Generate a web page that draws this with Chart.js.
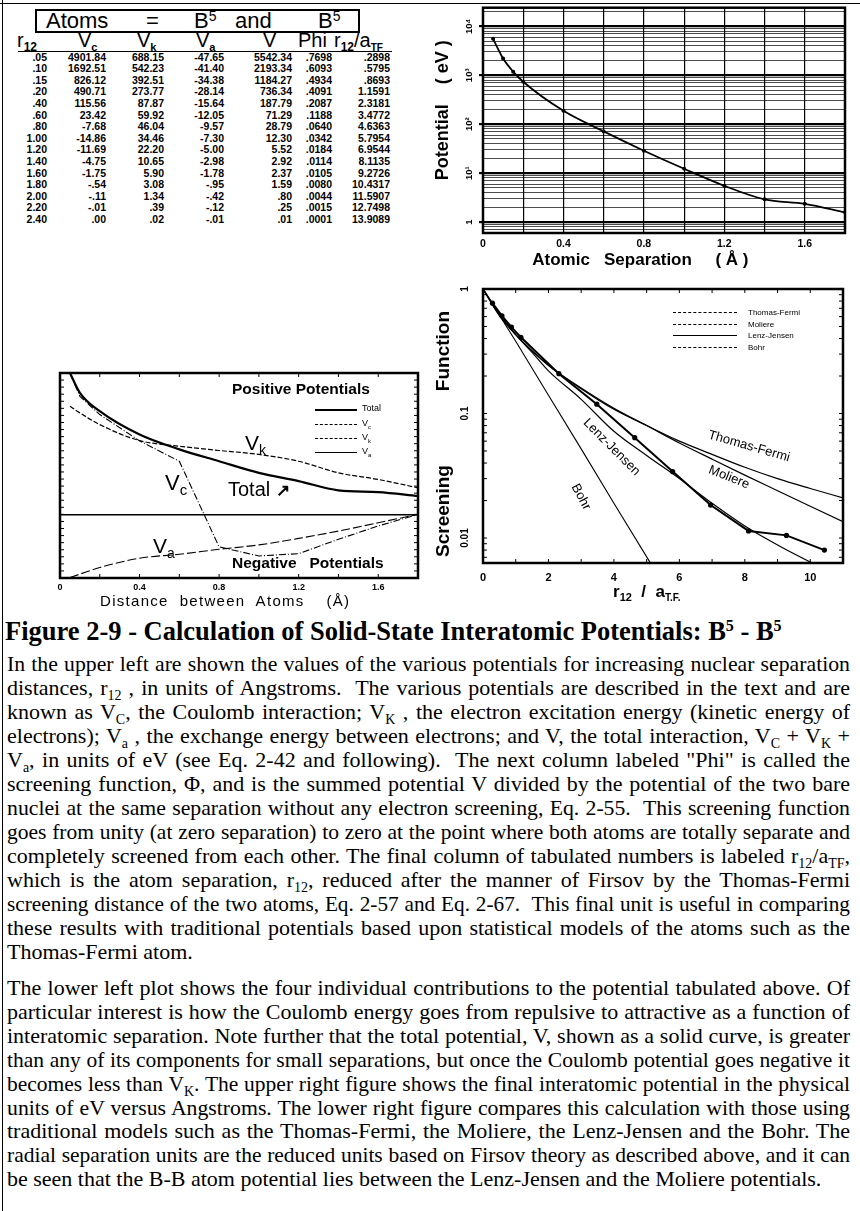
<!DOCTYPE html>
<html><head><meta charset="utf-8">
<script src="https://cdn.jsdelivr.net/npm/chart.js@4.4.1/dist/chart.umd.min.js"></script>
<style>
html,body{margin:0;padding:0;background:#fff}
body{width:860px;height:1211px;position:relative;overflow:hidden;color:#000;font-family:"Liberation Sans",Arial,sans-serif}
.a{position:absolute;white-space:nowrap;line-height:1}
canvas{position:absolute}
.tl{position:absolute;left:7px;width:843px;height:24px;line-height:24px;font-family:"Liberation Serif","Times New Roman",serif;font-size:22px;text-align:justify;text-align-last:justify}
.tl.last{text-align-last:left}
.tl sub{font-size:14px;vertical-align:-5px;line-height:0}
.cell{position:absolute;font-weight:bold;font-size:10.5px;line-height:11px;text-align:right;width:70px}
.hdr{position:absolute;font-size:20px;line-height:20px}
.hdr sub{font-size:12px;vertical-align:-4px;line-height:0;font-weight:bold}
.lgl{position:absolute;height:0;border-top:1.3px solid #000}
.lgt{position:absolute;font-size:8px;line-height:9px}
.ann{position:absolute;white-space:nowrap;line-height:1;transform-origin:center center}
</style></head><body>

<div class="a" style="left:0;top:3px;width:860px;height:0;border-top:1.5px solid #000"></div>
<div class="a" style="left:2px;top:0;width:0;height:1211px;border-left:1.5px solid #000"></div>

<!-- table -->
<div class="a" style="left:35px;top:9px;width:321px;height:20px;border:2px solid #000"></div>
<div class="a" style="left:46px;top:10px;font-size:22px">Atoms</div>
<div class="a" style="left:146px;top:10px;font-size:22px">=</div>
<div class="a" style="left:194px;top:10px;font-size:22px">B<sup style="font-size:14px;vertical-align:7px;line-height:0">5</sup></div>
<div class="a" style="left:235px;top:10px;font-size:22px">and</div>
<div class="a" style="left:318px;top:10px;font-size:22px">B<sup style="font-size:14px;vertical-align:7px;line-height:0">5</sup></div>
<div class="hdr" style="left:17px;top:30px">r<sub>12</sub></div>
<div class="hdr" style="left:78px;top:30px">V<sub style="font-size:11px">c</sub></div>
<div class="hdr" style="left:137px;top:30px">V<sub style="font-size:11px">k</sub></div>
<div class="hdr" style="left:196px;top:30px">V<sub style="font-size:11px">a</sub></div>
<div class="hdr" style="left:263px;top:30px">V</div>
<div class="hdr" style="left:298px;top:30px">Phi</div>
<div class="hdr" style="left:334px;top:30px">r<sub>12</sub>/a<sub style="font-size:10px">TF</sub></div>
<div class="a" style="left:18px;top:51px;width:374px;height:0;border-top:1.3px solid #000"></div>
<div id="tbl"></div>

<!-- charts -->
<canvas id="c1" width="428" height="275" style="left:432px;top:0"></canvas>
<canvas id="c2" width="440" height="250" style="left:0;top:360px"></canvas>
<canvas id="c3" width="428" height="325" style="left:432px;top:275px"></canvas>

<!-- lower-left annotations -->
<div class="a" style="left:232px;top:381px;font-size:15.5px;font-weight:bold">Positive Potentials</div>
<div class="lgl" style="left:315px;top:409px;width:42px;border-top-width:2px"></div>
<div class="lgl" style="left:315px;top:424px;width:42px;border-top-style:dashed;border-top-width:1px"></div>
<div class="lgl" style="left:315px;top:438px;width:42px;border-top-style:dashed;border-top-width:1.3px"></div>
<div class="lgl" style="left:315px;top:452px;width:42px;border-top-style:solid;border-top-width:1px"></div>
<div class="lgt" style="left:362px;top:404px;font-size:9px">Total</div>
<div class="lgt" style="left:362px;top:419px;font-size:9px">V<sub style="font-size:6px">c</sub></div>
<div class="lgt" style="left:362px;top:433px;font-size:9px">V<sub style="font-size:6px">k</sub></div>
<div class="lgt" style="left:362px;top:447px;font-size:9px">V<sub style="font-size:6px">a</sub></div>
<div class="a" style="left:245px;top:432px;font-size:21px">V<sub style="font-size:14px;vertical-align:-5px;line-height:0">k</sub></div>
<div class="a" style="left:165px;top:472px;font-size:22px">V<sub style="font-size:15px;vertical-align:-5px;line-height:0">c</sub></div>
<div class="a" style="left:228px;top:479px;font-size:20px">Total <span style="font-size:17px;font-weight:bold">&#x2197;</span></div>
<div class="a" style="left:153px;top:535px;font-size:21px">V<sub style="font-size:14px;vertical-align:-5px;line-height:0">a</sub></div>
<div class="a" style="left:232px;top:555px;font-size:15.5px;font-weight:bold">Negative&nbsp;&nbsp;&nbsp;Potentials</div>
<div class="a" style="left:100px;top:593px;font-size:15px;letter-spacing:1.3px">Distance&nbsp; between&nbsp; Atoms&nbsp;&nbsp;&nbsp; (&#xC5;)</div>

<!-- lower-right annotations -->
<div class="lgl" style="left:673px;top:312px;width:64px;border-top-style:dashed;border-top-width:1px"></div>
<div class="lgl" style="left:673px;top:324px;width:64px;border-top-style:dashed;border-top-width:1.3px"></div>
<div class="lgl" style="left:673px;top:335px;width:64px;border-top-width:1.2px"></div>
<div class="lgl" style="left:673px;top:347px;width:64px;border-top-style:dashed;border-top-width:1px"></div>
<div class="lgt" style="left:748px;top:308px">Thomas-Fermi</div>
<div class="lgt" style="left:748px;top:320px">Moliere</div>
<div class="lgt" style="left:748px;top:331px">Lenz-Jensen</div>
<div class="lgt" style="left:748px;top:343px">Bohr</div>
<div class="ann" style="left:707px;top:439px;font-size:13px;transform:rotate(16deg)">Thomas-Fermi</div>
<div class="ann" style="left:708px;top:470px;font-size:13px;transform:rotate(22deg)">Moliere</div>
<div class="ann" style="left:575px;top:440px;font-size:13px;transform:rotate(45deg)">Lenz-Jensen</div>
<div class="ann" style="left:568px;top:490px;font-size:13px;transform:rotate(62deg)">Bohr</div>
<div class="a" style="left:613px;top:583px;font-size:17px;font-weight:bold">r<sub style="font-size:11px;vertical-align:-4px;line-height:0">12</sub> &nbsp;/ &nbsp;a<sub style="font-size:10px;vertical-align:-4px;line-height:0">T.F.</sub></div>

<!-- caption -->
<div class="a" style="left:5px;top:618px;font-family:'Liberation Serif','Times New Roman',serif;font-weight:bold;font-size:26.5px">Figure 2-9 - Calculation of Solid-State Interatomic Potentials: B<sup style="font-size:16px;vertical-align:9px;line-height:0">5</sup> - B<sup style="font-size:16px;vertical-align:9px;line-height:0">5</sup></div>
<div id="txt"></div>

<script>
// ---------- data ----------
const r12   = [0.05,0.10,0.15,0.20,0.40,0.60,0.80,1.00,1.20,1.40,1.60,1.80,2.00,2.20,2.40];
const Vc    = [4901.84,1692.51,826.12,490.71,115.56,23.42,-7.68,-14.86,-11.69,-4.75,-1.75,-0.54,-0.11,-0.01,0.00];
const Vk    = [688.15,542.23,392.51,273.77,87.87,59.92,46.04,34.46,22.20,10.65,5.90,3.08,1.34,0.39,0.02];
const Va    = [-47.65,-41.40,-34.38,-28.14,-15.64,-12.05,-9.57,-7.30,-5.00,-2.98,-1.78,-0.95,-0.42,-0.12,-0.01];
const Vtot  = [5542.34,2193.34,1184.27,736.34,187.79,71.29,28.79,12.30,5.52,2.92,2.37,1.59,0.80,0.25,0.01];
const Phi   = [0.7698,0.6093,0.4934,0.4091,0.2087,0.1188,0.0640,0.0342,0.0184,0.0114,0.0105,0.0080,0.0044,0.0015,0.0001];
const rTF   = [0.2898,0.5795,0.8693,1.1591,2.3181,3.4772,4.6363,5.7954,6.9544,8.1135,9.2726,10.4317,11.5907,12.7498,13.9089];

// lower-left plot (relative units, zero line = 0)
const llX     = [0.05,0.1,0.2,0.4,0.6,0.8,1.0,1.2,1.4,1.6,1.8];
const llTotal = [100,86,73,56.5,46,37.6,29.4,23.5,17,15.8,13];
const llVc    = [100,83.5,70.6,52,37.6,-23,-29.4,-27.8,-17.6,-8.2,0];
const llVk    = [76.5,71.8,63.5,52.2,48.2,45.2,42.4,37.6,29.4,24.7,18.8];
const llVaX   = [0.05,0.2,0.4,0.6,0.8,1.0,1.2,1.4,1.6,1.8];
const llVa    = [-44.7,-37.6,-31,-28.2,-24.7,-21.6,-17,-11.8,-5.9,0];

// lower-right reference screening functions
const tfX   = [0,0.5,1,2,3,4,5,6,7,8,9,10,11];
const tfPhi = [1,0.62,0.43,0.245,0.158,0.108,0.08,0.06,0.047,0.037,0.03,0.025,0.021];
const molX  = [0,0.5,1,2,3,4,5,6,7,8,9,10,11];
const molPhi= [1,0.61,0.43,0.243,0.16,0.11,0.08,0.058,0.043,0.032,0.024,0.018,0.0135];
const ljX   = [0,0.5,1,1.5,2,3,4,5,6,7,8,9,10];
const ljPhi = [1,0.64,0.43,0.31,0.22,0.13,0.072,0.046,0.03,0.019,0.0125,0.0088,0.0064];
const bohrX = [0,1,2,3,4,5.1];
const bohrPhi=[1,0.38,0.14,0.052,0.019,0.0064];

// tick labels
const potXTicks  = [0,0.2,0.4,0.6,0.8,1.0,1.2,1.4,1.6,1.8];
const potXLabels = ['0','','0.4','','0.8','','1.2','','1.6',''];
const potDecades = [1,10,100,1000,10000];
const potDecLabels = ['1','10\u00B9','10\u00B2','10\u00B3','10\u2074'];
const llXLabels  = ['0','','0.4','','0.8','','1.2','','1.6',''];
const scrXTicks  = [0,1,2,3,4,5,6,7,8,9,10,11];
const scrXLabels = ['0','','2','','4','','6','','8','','10',''];
const scrDecades = [0.01,0.1,1];
const scrDecLabels = ['0.01','0.1','1'];

// ---------- table ----------
function fmt(v, d){ let s = Math.abs(v).toFixed(d); if (s.startsWith('0.')) s = s.slice(1); return (v<0?'-':'') + s; }
const colRight = [47,106,164,224,292,332,390];
let html='';
r12.forEach((r,i)=>{
  const y = 51.5 + i*11.6;
  const vals = [fmt(r,2), fmt(Vc[i],2), fmt(Vk[i],2), fmt(Va[i],2), fmt(Vtot[i],2), fmt(Phi[i],4), fmt(rTF[i],4)];
  vals.forEach((t,j)=>{ html += `<div class="cell" style="left:${colRight[j]-70}px;top:${y}px">${t}</div>`; });
});
document.getElementById('tbl').innerHTML = html;

// ---------- text ----------
const p1 = [
 'In the upper left are shown the values of the various potentials for increasing nuclear separation',
 'distances, r<sub>12</sub> , in units of Angstroms.&nbsp; The various potentials are described in the text and are',
 'known as V<sub>C</sub>, the Coulomb interaction; V<sub>K</sub> , the electron excitation energy (kinetic energy of',
 'electrons); V<sub>a</sub> , the exchange energy between electrons; and V, the total interaction, V<sub>C</sub> + V<sub>K</sub> +',
 'V<sub>a</sub>, in units of eV (see Eq. 2-42 and following).&nbsp; The next column labeled "Phi" is called the',
 'screening function, \u03A6, and is the summed potential V divided by the potential of the two bare',
 'nuclei at the same separation without any electron screening, Eq. 2-55.&nbsp; This screening function',
 'goes from unity (at zero separation) to zero at the point where both atoms are totally separate and',
 'completely screened from each other. The final column of tabulated numbers is labeled r<sub>12</sub>/a<sub>TF</sub>,',
 'which is the atom separation, r<sub>12</sub>, reduced after the manner of Firsov by the Thomas-Fermi',
 'screening distance of the two atoms, Eq. 2-57 and Eq. 2-67.&nbsp; This final unit is useful in comparing',
 'these results with traditional potentials based upon statistical models of the atoms such as the',
 'Thomas-Fermi atom.'];
const p2 = [
 'The lower left plot shows the four individual contributions to the potential tabulated above. Of',
 'particular interest is how the Coulomb energy goes from repulsive to attractive as a function of',
 'interatomic separation. Note further that the total potential, V, shown as a solid curve, is greater',
 'than any of its components for small separations, but once the Coulomb potential goes negative it',
 'becomes less than V<sub>K</sub>. The upper right figure shows the final interatomic potential in the physical',
 'units of eV versus Angstroms. The lower right figure compares this calculation with those using',
 'traditional models such as the Thomas-Fermi, the Moliere, the Lenz-Jensen and the Bohr. The',
 'radial separation units are the reduced units based on Firsov theory as described above, and it can',
 'be seen that the B-B atom potential lies between the Lenz-Jensen and the Moliere potentials.'];
let th='';
p1.forEach((l,i)=>{ th += `<div class="tl${i===p1.length-1?' last':''}" style="top:${652+i*24}px"><span>${l}</span></div>`; });
p2.forEach((l,i)=>{ th += `<div class="tl${i===p2.length-1?' last':''}" style="top:${976+i*23.9}px"><span>${l}</span></div>`; });
document.getElementById('txt').innerHTML = th;
// shrink any line whose natural width exceeds the column
document.querySelectorAll('.tl').forEach(el=>{
  const sp = el.firstElementChild;
  el.style.whiteSpace='nowrap'; el.style.textAlign='left'; el.style.textAlignLast='left';
  let fs = 22;
  while (sp.getBoundingClientRect().width > 840 && fs > 15){ fs -= 0.25; el.style.fontSize = fs+'px'; }
  el.style.whiteSpace=''; el.style.textAlign=''; el.style.textAlignLast='';
});

// ---------- charts ----------
Chart.defaults.font.family = '"Liberation Sans", Arial, sans-serif';
Chart.defaults.color = '#000';

const isDec = v => Math.abs(Math.log10(v) - Math.round(Math.log10(v))) < 1e-9;
function logTicks(decades, min, max){
  const out=[];
  decades.concat([decades[0]/10]).sort((a,b)=>a-b).forEach(d=>{
    for(let k=1;k<10;k++){ const v=+(k*d).toPrecision(6); if(v>=min-1e-12 && v<=max+1e-9) out.push(v); }
  });
  return [...new Set(out)].sort((a,b)=>a-b);
}
function decLabel(v, decs, labs){ for(let i=0;i<decs.length;i++){ if(Math.abs(v/decs[i]-1)<1e-6) return labs[i]; } return ''; }

const framePlugin = {
  id:'frame',
  afterDraw(chart, args, opts){
    const {ctx, chartArea:a} = chart;
    ctx.save();
    ctx.strokeStyle='#000';
    if (opts.inTicks){
      ctx.lineWidth=1;
      const xs=chart.scales.x, ys=chart.scales.y, L=opts.len||4;
      ctx.beginPath();
      xs.ticks.forEach(t=>{const p=xs.getPixelForValue(t.value); ctx.moveTo(p,a.bottom); ctx.lineTo(p,a.bottom-L); ctx.moveTo(p,a.top); ctx.lineTo(p,a.top+L);});
      ys.ticks.forEach(t=>{const p=ys.getPixelForValue(t.value); ctx.moveTo(a.left,p); ctx.lineTo(a.left+L,p); ctx.moveTo(a.right,p); ctx.lineTo(a.right-L,p);});
      ctx.stroke();
    }
    ctx.lineWidth = opts.width||2;
    ctx.strokeRect(a.left,a.top,a.right-a.left,a.bottom-a.top);
    ctx.restore();
  }
};
const pts = (xs, ys) => xs.map((x,i)=>({x, y:ys[i]}));
const base = {responsive:false, animation:false, devicePixelRatio:1,
  plugins:{legend:{display:false}, tooltip:{enabled:false}}};

// Chart 1: potential vs separation
const potYTicks = logTicks(potDecades, 0.6, 24000);
new Chart(document.getElementById('c1'), {
  type:'line',
  data:{datasets:[{data: pts(r12, Vtot).filter(p=>p.x<=1.8), borderColor:'#000', borderWidth:1.8,
    pointRadius:2, pointBackgroundColor:'#000', pointBorderWidth:0, cubicInterpolationMode:'monotone'}]},
  options:{...base, plugins:{...base.plugins, frame:{width:2.5}},
    layout:{padding:{top:7,right:15,left:0,bottom:0}},
    scales:{
      x:{type:'linear', min:0, max:1.8, afterFit:s=>{s.height=42},
        afterBuildTicks:s=>{s.ticks=potXTicks.map(v=>({value:v}))},
        grid:{color:'#000', lineWidth:1.2, drawTicks:false}, border:{display:false},
        ticks:{autoSkip:false, padding:5, maxRotation:0, font:{size:10.5, weight:'bold'}, callback:(v,i)=>potXLabels[i]},
        title:{display:true, text:'Atomic   Separation     ( \u00C5 )          ', font:{size:17, weight:'bold'}, padding:{top:0,bottom:4}}},
      y:{type:'logarithmic', min:0.6, max:24000, afterFit:s=>{s.width=51},
        afterBuildTicks:s=>{s.ticks=potYTicks.map(v=>({value:v}))},
        grid:{color:'#000', lineWidth:c=> (c.tick && isDec(c.tick.value)) ? 2.2 : 0.7, tickLength:4,
              tickColor:c=> (c.tick && isDec(c.tick.value)) ? '#000' : 'rgba(0,0,0,0)'},
        border:{display:false},
        ticks:{autoSkip:false, minRotation:90, maxRotation:90, crossAlign:'center', padding:2,
               font:{size:9.5, weight:'bold'}, callback:v=>decLabel(v, potDecades, potDecLabels)},
        title:{display:true, text:'    Potential    ( eV )', font:{size:18, weight:'bold'}, padding:{top:0,bottom:0}}}
    }},
  plugins:[framePlugin]
});

// Chart 2: individual contributions
const dsLine = (data, w, dash) => ({data, borderColor:'#000', borderWidth:w, borderDash:dash, pointRadius:0, cubicInterpolationMode:'monotone'});
new Chart(document.getElementById('c2'), {
  type:'line',
  data:{datasets:[
    dsLine(pts(llX, llTotal), 2.2, []),
    {...dsLine(pts(llX, llVc), 1.1, [7,2,1,2]), cubicInterpolationMode:'default', tension:0},
    dsLine(pts(llX, llVk), 1.2, [5,2]),
    dsLine(pts(llVaX, llVa), 1.1, [9,3])
  ]},
  options:{...base, plugins:{...base.plugins, frame:{width:2.5, inTicks:true, len:4}},
    layout:{padding:{top:13,right:22,left:0,bottom:0}},
    scales:{
      x:{type:'linear', min:0, max:1.8, afterFit:s=>{s.height=32},
        afterBuildTicks:s=>{s.ticks=potXTicks.map(v=>({value:v}))},
        grid:{display:false, drawTicks:false}, border:{display:false},
        ticks:{autoSkip:false, padding:4, maxRotation:0, font:{size:9, weight:'bold'}, callback:(v,i)=>llXLabels[i]}},
      y:{type:'linear', min:-45, max:100, afterFit:s=>{s.width=60},
        ticks:{display:false, stepSize:5},
        grid:{drawTicks:false, color:c=> (c.tick && c.tick.value===0) ? '#000' : 'rgba(0,0,0,0)', lineWidth:1.6},
        border:{display:false}}
    }},
  plugins:[framePlugin]
});

// Chart 3: screening functions
const scrYTicks = logTicks(scrDecades, 0.0063, 1);
new Chart(document.getElementById('c3'), {
  type:'line',
  data:{datasets:[
    dsLine(pts(tfX, tfPhi), 1.2, []),
    dsLine(pts(molX, molPhi), 1.2, []),
    dsLine(pts(ljX, ljPhi), 1.2, []),
    {...dsLine(pts(bohrX, bohrPhi), 1.1, []), cubicInterpolationMode:'default', tension:0},
    {data: pts(rTF, Phi).filter(p=>p.x<=11), borderColor:'#000', borderWidth:2, pointRadius:2.6,
     pointBackgroundColor:'#000', pointBorderWidth:0, tension:0}
  ]},
  options:{...base, plugins:{...base.plugins, frame:{width:2.5, inTicks:true, len:4}},
    layout:{padding:{top:8,right:17,left:0,bottom:0}},
    scales:{
      x:{type:'linear', min:0, max:11, afterFit:s=>{s.height=37},
        afterBuildTicks:s=>{s.ticks=scrXTicks.map(v=>({value:v}))},
        grid:{display:false, drawTicks:false}, border:{display:false},
        ticks:{autoSkip:false, padding:8, maxRotation:0, font:{size:11, weight:'bold'}, callback:(v,i)=>scrXLabels[i]}},
      y:{type:'logarithmic', min:0.0063, max:1, afterFit:s=>{s.width=51},
        afterBuildTicks:s=>{s.ticks=scrYTicks.map(v=>({value:v}))},
        grid:{display:false, drawTicks:false}, border:{display:false},
        ticks:{autoSkip:false, minRotation:90, maxRotation:90, crossAlign:'center', padding:8,
               font:{size:10, weight:'bold'}, callback:v=>decLabel(v, scrDecades, scrDecLabels)},
        title:{display:true, text:'Screening              Function   ', font:{size:19, weight:'bold'}, padding:{top:0,bottom:0}}}
    }},
  plugins:[framePlugin]
});
</script>
</body></html>
